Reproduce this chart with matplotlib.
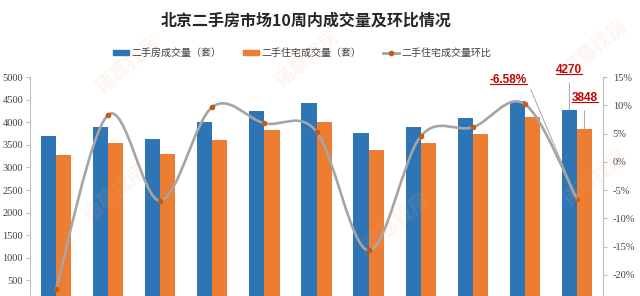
import matplotlib
matplotlib.use("Agg")
import matplotlib.pyplot as plt
from matplotlib.path import Path
from matplotlib.patches import PathPatch, Patch
from matplotlib.lines import Line2D
from matplotlib.text import Text
import numpy as np

plt.rcParams['font.family'] = ['Noto Sans CJK SC', 'DejaVu Sans']

weeks = list(range(1, 12))
total_deals = [3700, 3887, 3621, 4011, 4255, 4418, 3754, 3887, 4086, 4476, 4270]
house_deals = [3268, 3533, 3289, 3606, 3827, 4011, 3385, 3533, 3731, 4108, 3848]
house_ratio = [-22.5, 8.3, -6.9, 9.7, 6.8, 5.35, -15.7, 4.5, 6.1, 10.2, -6.58]

BLUE = "#2e75b6"
ORANGE = "#ed7d31"
GREY = "#a5a5a5"
RED = "#c00000"

fig = plt.figure(figsize=(6.4, 2.96), dpi=100)
ax = fig.add_axes([30 / 640, -7 / 296, 573 / 640, 226 / 296])
ax2 = ax.twinx()

x = np.arange(len(weeks))
w = 0.29
ax.bar(x - w / 2, total_deals, w, color=BLUE, zorder=2)
ax.bar(x + w / 2, house_deals, w, color=ORANGE, zorder=2)
ax.set_xlim(-0.5, len(weeks) - 0.5)
ax.set_ylim(0, 5000)
ax.set_yticks(np.arange(500, 5001, 500))
ax.set_xticks([])

ax2.set_ylim(-25, 15)
ax2.set_yticks(np.arange(-20, 16, 5))
ax2.set_yticklabels([f"{v}%" for v in range(-20, 16, 5)])

for a in (ax, ax2):
    for s in a.spines.values():
        s.set_visible(False)
ax.spines['left'].set_visible(True)
ax.spines['left'].set_color("#bfbfbf")
ax2.spines['right'].set_visible(True)
ax2.spines['right'].set_color("#bfbfbf")
ax.tick_params(axis='y', length=3, color="#bfbfbf", labelsize=7.5, pad=2, labelcolor="#404040")
ax2.tick_params(axis='y', length=3, color="#bfbfbf", labelsize=7.5, pad=4, labelcolor="#404040")
for lab in ax.get_yticklabels() + ax2.get_yticklabels():
    lab.set_fontfamily("Liberation Serif")

# smoothed line like excel (bezier through the points)
pts = np.column_stack([x, house_ratio])
verts = [pts[0]]
codes = [Path.MOVETO]
for i in range(len(pts) - 1):
    p0 = pts[i - 1] if i > 0 else pts[i]
    p1 = pts[i]
    p2 = pts[i + 1]
    p3 = pts[i + 2] if i + 2 < len(pts) else pts[i + 1]
    c1 = p1 + (p2 - p0) / 6
    c2 = p2 - (p3 - p1) / 6
    verts += [c1, c2, p2]
    codes += [Path.CURVE4] * 3
curve = PathPatch(Path(verts, codes), facecolor="none", edgecolor=GREY, lw=1.9,
                  transform=ax2.transData, zorder=3)
ax2.add_patch(curve)
ax2.plot(x, house_ratio, ls="none", marker="o", ms=3, color="#c55a11", zorder=4)

# labels
ax2.annotate("-6.58%", xy=(x[-1], house_ratio[-1]), xytext=(8.68, 14.45),
             color=RED, fontsize=8.5, fontweight="bold", ha="center", va="center",
             fontfamily="Liberation Sans", annotation_clip=False, zorder=5,
             arrowprops=dict(arrowstyle="-", color="#a6a6a6", lw=0.7, shrinkA=2, shrinkB=0,
                             relpos=(1.0, 0.5)))
ax.annotate("4270", xy=(x[-1] - w / 2, total_deals[-1]), xytext=(x[-1] - w / 2, 5155),
            color=RED, fontsize=8.5, fontweight="bold", ha="center", va="center",
            fontfamily="Liberation Sans", annotation_clip=False,
            arrowprops=dict(arrowstyle="-", color="#a6a6a6", lw=0.7, shrinkA=3, shrinkB=0,
                            relpos=(0.5, 0.0)))
ax.annotate("3848", xy=(x[-1] + w / 2, house_deals[-1]), xytext=(x[-1] + w / 2, 4535),
            color=RED, fontsize=8.5, fontweight="bold", ha="center", va="center",
            fontfamily="Liberation Sans",
            arrowprops=dict(arrowstyle="-", color="#a6a6a6", lw=0.7, shrinkA=3, shrinkB=0,
                            relpos=(0.5, 0.0)))

fig.text(0.478, 0.932, "北京二手房市场10周内成交量及环比情况", ha="center", va="center",
         fontsize=11.5, fontweight="bold", color="#262626")

handles = [Patch(color=BLUE), Patch(color=ORANGE),
           Line2D([], [], color=GREY, lw=2, marker="o", ms=3, mfc="#c55a11", mec="#c55a11")]
labels = ["二手房成交量（套）", "二手住宅成交量（套）", "二手住宅成交量环比"]
fig.legend(handles, labels, loc="center", bbox_to_anchor=(0.472, 0.821), ncol=3, frameon=False,
           fontsize=7.2, handlelength=1.6, handleheight=0.5, columnspacing=2.2, handletextpad=0.2,
           labelcolor="#404040")

# faint watermark
for wx, wy in [(0.2, 0.78), (0.48, 0.8), (0.93, 0.84), (0.18, 0.35), (0.93, 0.4), (0.62, 0.25)]:
    fig.text(wx, wy, "诸葛找房", rotation=40, fontsize=14, color="#f4b183", alpha=0.12,
             ha="center", va="center", fontweight="bold")

# underline red labels
fig.canvas.draw()
renderer = fig.canvas.get_renderer()
inv = fig.transFigure.inverted()
for t in ax2.texts + ax.texts:
    bb = Text.get_window_extent(t, renderer)
    (x0, y0), (x1, _) = inv.transform([[bb.x0, bb.y0], [bb.x1, bb.y1]])
    fig.add_artist(Line2D([x0, x1], [y0 + 0.006, y0 + 0.006], color=RED, lw=0.8,
                          transform=fig.transFigure))

fig.savefig("out.png", dpi=100, facecolor="white")
